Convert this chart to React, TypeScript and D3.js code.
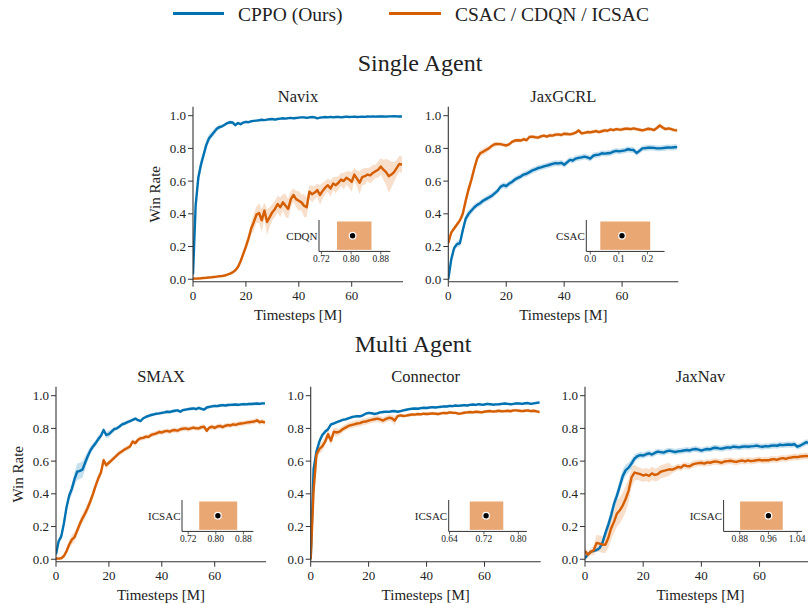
import React from 'react';
import * as d3 from 'd3';

const BLUE = '#0072B2';
const ORANGE = '#D55E00';
const INK = '#222';
const SPINE = '#333';
const FONT = '"Liberation Serif", "Times New Roman", "DejaVu Serif", serif';

// Timesteps (M)
const STEPS = [
  0, 1, 2, 3, 4, 5, 6, 7, 8, 9, 10, 11, 12, 13, 14, 15, 16, 17, 18, 19,
  20, 21, 22, 23, 24, 25, 26, 27, 28, 29, 30, 31, 32, 33, 34, 35, 36, 37, 38, 39,
  40, 41, 42, 43, 44, 45, 46, 47, 48, 49, 50, 51, 52, 53, 54, 55, 56, 57, 58, 59,
  60, 61, 62, 63, 64, 65, 66, 67, 68, 69, 70, 71, 72, 73, 74, 75, 76, 77, 78, 79,
];

const LEGEND = ['CPPO (Ours)', 'CSAC / CDQN / ICSAC'];
const ROW_TITLES = ['Single Agent', 'Multi Agent'];
const PANEL_TITLES = ['Navix', 'JaxGCRL', 'SMAX', 'Connector', 'JaxNav'];
const Y_TICKS = [0, 0.2, 0.4, 0.6, 0.8, 1.0];
const X_TICKS = [0, 20, 40, 60];

// ---------- Navix ----------
const NAVIX_CPPO = [
  0.03, 0.45, 0.62, 0.70, 0.76, 0.82, 0.86, 0.88, 0.90, 0.92,
  0.93, 0.935, 0.945, 0.955, 0.96, 0.958, 0.942, 0.955, 0.948, 0.958,
  0.962, 0.96, 0.966, 0.968, 0.97, 0.972, 0.975, 0.973, 0.976, 0.978,
  0.98, 0.976, 0.98, 0.982, 0.984, 0.982, 0.985, 0.987, 0.984, 0.986,
  0.988, 0.99, 0.99, 0.987, 0.99, 0.992, 0.99, 0.984, 0.988, 0.99,
  0.992, 0.99, 0.993, 0.99, 0.992, 0.993, 0.99, 0.992, 0.994, 0.992,
  0.993, 0.994, 0.992, 0.993, 0.994, 0.993, 0.995, 0.994, 0.995, 0.994,
  0.995, 0.996, 0.995, 0.994, 0.996, 0.996, 0.997, 0.996, 0.995, 0.995,
];
const NAVIX_CPPO_SD = [
  0.01, 0.03, 0.04, 0.04, 0.03, 0.03, 0.025, 0.02, 0.02, 0.015,
  0.015, 0.01, 0.01, 0.01, 0.01, 0.01, 0.01, 0.01, 0.01, 0.01,
  0.008, 0.008, 0.006, 0.006, 0.006, 0.006, 0.006, 0.006, 0.006, 0.006,
  0.006, 0.006, 0.006, 0.006, 0.006, 0.006, 0.006, 0.006, 0.006, 0.006,
  0.006, 0.006, 0.006, 0.006, 0.006, 0.006, 0.006, 0.006, 0.006, 0.006,
  0.006, 0.006, 0.006, 0.006, 0.006, 0.006, 0.006, 0.006, 0.006, 0.006,
  0.006, 0.006, 0.006, 0.006, 0.006, 0.006, 0.006, 0.006, 0.006, 0.006,
  0.006, 0.006, 0.006, 0.006, 0.006, 0.006, 0.006, 0.006, 0.006, 0.006,
];
const NAVIX_BASE = [
  0.005, 0.004, 0.005, 0.006, 0.008, 0.009, 0.011, 0.012, 0.014, 0.016,
  0.018, 0.02, 0.023, 0.028, 0.034, 0.042, 0.055, 0.075, 0.11, 0.155,
  0.20, 0.25, 0.31, 0.35, 0.395, 0.405, 0.36, 0.42, 0.35, 0.38,
  0.41, 0.43, 0.46, 0.44, 0.47, 0.45, 0.43, 0.49, 0.515, 0.49,
  0.48, 0.47, 0.45, 0.44, 0.535, 0.52, 0.53, 0.545, 0.515, 0.54,
  0.56, 0.575, 0.555, 0.585, 0.575, 0.59, 0.61, 0.60, 0.62, 0.61,
  0.595, 0.64, 0.615, 0.59, 0.625, 0.63, 0.64, 0.635, 0.65, 0.66,
  0.67, 0.69, 0.67, 0.655, 0.63, 0.64, 0.655, 0.68, 0.705, 0.70,
];
const NAVIX_BASE_SD = [
  0.004, 0.004, 0.004, 0.004, 0.004, 0.004, 0.004, 0.004, 0.005, 0.005,
  0.005, 0.005, 0.006, 0.006, 0.007, 0.008, 0.01, 0.015, 0.02, 0.025,
  0.03, 0.03, 0.04, 0.05, 0.05, 0.06, 0.07, 0.05, 0.08, 0.06,
  0.05, 0.05, 0.05, 0.06, 0.05, 0.07, 0.06, 0.05, 0.04, 0.05,
  0.06, 0.05, 0.07, 0.06, 0.04, 0.05, 0.04, 0.04, 0.06, 0.05,
  0.04, 0.04, 0.05, 0.04, 0.05, 0.04, 0.04, 0.05, 0.04, 0.05,
  0.06, 0.04, 0.05, 0.07, 0.05, 0.05, 0.04, 0.05, 0.05, 0.04,
  0.05, 0.05, 0.06, 0.08, 0.10, 0.08, 0.06, 0.05, 0.05, 0.05,
];

// ---------- JaxGCRL ----------
const JAXGCRL_CPPO = [
  0.0, 0.12, 0.19, 0.215, 0.22, 0.30, 0.37, 0.40, 0.42, 0.44,
  0.455, 0.465, 0.48, 0.49, 0.50, 0.51, 0.525, 0.54, 0.565, 0.575,
  0.57, 0.585, 0.595, 0.61, 0.62, 0.628, 0.64, 0.645, 0.655, 0.665,
  0.672, 0.68, 0.684, 0.69, 0.695, 0.70, 0.705, 0.71, 0.708, 0.712,
  0.70, 0.715, 0.73, 0.726, 0.738, 0.742, 0.745, 0.75, 0.745, 0.738,
  0.755, 0.76, 0.762, 0.77, 0.768, 0.77, 0.772, 0.78, 0.785, 0.782,
  0.785, 0.788, 0.795, 0.792, 0.79, 0.772, 0.785, 0.80, 0.802, 0.804,
  0.805, 0.803, 0.80, 0.80, 0.802, 0.804, 0.806, 0.805, 0.807, 0.808,
];
const JAXGCRL_CPPO_SD = [
  0.005, 0.02, 0.02, 0.02, 0.02, 0.025, 0.025, 0.025, 0.02, 0.02,
  0.018, 0.018, 0.018, 0.018, 0.018, 0.018, 0.018, 0.018, 0.018, 0.018,
  0.018, 0.018, 0.018, 0.018, 0.018, 0.018, 0.018, 0.018, 0.018, 0.018,
  0.018, 0.018, 0.018, 0.018, 0.018, 0.018, 0.018, 0.018, 0.018, 0.018,
  0.018, 0.018, 0.018, 0.018, 0.018, 0.018, 0.018, 0.018, 0.018, 0.018,
  0.018, 0.018, 0.018, 0.018, 0.018, 0.018, 0.018, 0.018, 0.018, 0.018,
  0.018, 0.018, 0.018, 0.018, 0.018, 0.018, 0.018, 0.018, 0.018, 0.018,
  0.018, 0.018, 0.018, 0.018, 0.018, 0.018, 0.018, 0.018, 0.018, 0.018,
];
const JAXGCRL_BASE = [
  0.22, 0.285, 0.31, 0.335, 0.36, 0.40, 0.48, 0.55, 0.61, 0.68,
  0.74, 0.77, 0.78, 0.79, 0.80, 0.815, 0.825, 0.827, 0.826, 0.822,
  0.818, 0.825, 0.84, 0.848, 0.85, 0.848, 0.856, 0.85, 0.87, 0.872,
  0.868, 0.866, 0.874, 0.878, 0.872, 0.88, 0.878, 0.884, 0.886, 0.882,
  0.89, 0.888, 0.886, 0.89, 0.897, 0.91, 0.892, 0.895, 0.90, 0.898,
  0.902, 0.906, 0.90, 0.905, 0.91, 0.908, 0.916, 0.912, 0.918, 0.915,
  0.916, 0.92, 0.92, 0.918, 0.922, 0.918, 0.914, 0.91, 0.915, 0.92,
  0.918, 0.912, 0.925, 0.94, 0.928, 0.918, 0.922, 0.918, 0.912, 0.91,
];
const JAXGCRL_BASE_SD = [
  0.02, 0.015, 0.015, 0.015, 0.015, 0.03, 0.035, 0.035, 0.03, 0.03,
  0.025, 0.02, 0.02, 0.02, 0.015, 0.015, 0.015, 0.012, 0.012, 0.012,
  0.012, 0.012, 0.012, 0.012, 0.012, 0.012, 0.012, 0.012, 0.012, 0.012,
  0.012, 0.012, 0.012, 0.012, 0.012, 0.012, 0.012, 0.012, 0.012, 0.012,
  0.012, 0.012, 0.012, 0.012, 0.012, 0.012, 0.012, 0.012, 0.012, 0.012,
  0.012, 0.012, 0.012, 0.012, 0.012, 0.012, 0.012, 0.012, 0.012, 0.012,
  0.012, 0.012, 0.012, 0.012, 0.012, 0.012, 0.012, 0.012, 0.012, 0.012,
  0.012, 0.012, 0.012, 0.015, 0.015, 0.012, 0.012, 0.012, 0.012, 0.012,
];

// ---------- SMAX ----------
const SMAX_CPPO = [
  0.03, 0.11, 0.14, 0.22, 0.32, 0.39, 0.43, 0.49, 0.535, 0.54,
  0.548, 0.59, 0.63, 0.665, 0.69, 0.71, 0.735, 0.755, 0.79, 0.76,
  0.765, 0.78, 0.795, 0.80, 0.812, 0.825, 0.83, 0.838, 0.845, 0.852,
  0.86, 0.85, 0.845, 0.862, 0.87, 0.877, 0.882, 0.886, 0.89, 0.892,
  0.895, 0.898, 0.902, 0.90, 0.905, 0.908, 0.91, 0.902, 0.912, 0.915,
  0.918, 0.92, 0.922, 0.918, 0.925, 0.92, 0.915, 0.928, 0.932, 0.935,
  0.938, 0.936, 0.94, 0.942, 0.94, 0.943, 0.944, 0.945, 0.946, 0.944,
  0.947, 0.948, 0.947, 0.95, 0.949, 0.951, 0.952, 0.95, 0.953, 0.953,
];
const SMAX_CPPO_SD = [
  0.01, 0.02, 0.02, 0.02, 0.025, 0.03, 0.035, 0.04, 0.05, 0.05,
  0.05, 0.04, 0.03, 0.025, 0.02, 0.02, 0.02, 0.02, 0.015, 0.02,
  0.02, 0.015, 0.015, 0.012, 0.012, 0.012, 0.012, 0.012, 0.01, 0.01,
  0.01, 0.01, 0.01, 0.01, 0.01, 0.01, 0.01, 0.01, 0.01, 0.01,
  0.01, 0.01, 0.01, 0.01, 0.01, 0.01, 0.01, 0.01, 0.01, 0.01,
  0.01, 0.01, 0.01, 0.01, 0.01, 0.01, 0.01, 0.01, 0.01, 0.01,
  0.01, 0.01, 0.01, 0.01, 0.01, 0.01, 0.01, 0.01, 0.01, 0.01,
  0.01, 0.01, 0.01, 0.01, 0.01, 0.01, 0.01, 0.01, 0.01, 0.01,
];
const SMAX_BASE = [
  0.005, 0.004, 0.006, 0.02, 0.05, 0.09, 0.12, 0.135, 0.175, 0.215,
  0.25, 0.28, 0.315, 0.355, 0.40, 0.45, 0.495, 0.53, 0.605, 0.575,
  0.59, 0.605, 0.62, 0.635, 0.65, 0.66, 0.672, 0.68, 0.69, 0.72,
  0.71, 0.73, 0.74, 0.742, 0.75, 0.748, 0.76, 0.765, 0.77, 0.778,
  0.775, 0.782, 0.785, 0.78, 0.788, 0.79, 0.786, 0.795, 0.798, 0.80,
  0.795, 0.80, 0.805, 0.80, 0.80, 0.808, 0.81, 0.785, 0.805, 0.81,
  0.803, 0.812, 0.815, 0.808, 0.816, 0.82, 0.818, 0.825, 0.822, 0.828,
  0.83, 0.832, 0.835, 0.838, 0.84, 0.842, 0.85, 0.838, 0.842, 0.836,
];
const SMAX_BASE_SD = [
  0.005, 0.005, 0.006, 0.01, 0.02, 0.025, 0.03, 0.03, 0.03, 0.03,
  0.03, 0.03, 0.03, 0.03, 0.03, 0.025, 0.025, 0.025, 0.02, 0.02,
  0.015, 0.015, 0.015, 0.015, 0.015, 0.015, 0.015, 0.015, 0.015, 0.015,
  0.015, 0.015, 0.015, 0.015, 0.015, 0.015, 0.015, 0.015, 0.015, 0.015,
  0.015, 0.015, 0.015, 0.015, 0.015, 0.015, 0.015, 0.015, 0.015, 0.015,
  0.015, 0.015, 0.015, 0.015, 0.015, 0.015, 0.015, 0.015, 0.015, 0.015,
  0.015, 0.015, 0.015, 0.015, 0.015, 0.015, 0.015, 0.015, 0.015, 0.015,
  0.015, 0.015, 0.015, 0.015, 0.015, 0.015, 0.015, 0.015, 0.015, 0.015,
];

// ---------- Connector ----------
const CONNECTOR_CPPO = [
  0.0, 0.55, 0.66, 0.72, 0.76, 0.78, 0.795, 0.825, 0.83, 0.838,
  0.845, 0.852, 0.855, 0.862, 0.868, 0.872, 0.875, 0.874, 0.88, 0.89,
  0.895, 0.893, 0.888, 0.892, 0.898, 0.90, 0.902, 0.901, 0.905, 0.906,
  0.902, 0.906, 0.91, 0.914, 0.918, 0.92, 0.922, 0.92, 0.924, 0.926,
  0.925, 0.928, 0.93, 0.928, 0.93, 0.932, 0.935, 0.934, 0.938, 0.936,
  0.94, 0.938, 0.94, 0.942, 0.94, 0.944, 0.946, 0.944, 0.948, 0.945,
  0.946, 0.95, 0.948, 0.945, 0.947, 0.948, 0.95, 0.952, 0.95, 0.948,
  0.95, 0.953, 0.952, 0.95, 0.954, 0.955, 0.95, 0.953, 0.956, 0.958,
];
const CONNECTOR_CPPO_SD = [
  0.005, 0.03, 0.02, 0.02, 0.015, 0.015, 0.01, 0.01, 0.008, 0.008,
  0.008, 0.008, 0.008, 0.008, 0.008, 0.008, 0.008, 0.008, 0.008, 0.008,
  0.008, 0.008, 0.008, 0.008, 0.008, 0.008, 0.008, 0.008, 0.008, 0.008,
  0.008, 0.008, 0.008, 0.008, 0.008, 0.008, 0.008, 0.008, 0.008, 0.008,
  0.008, 0.008, 0.008, 0.008, 0.008, 0.008, 0.008, 0.008, 0.008, 0.008,
  0.008, 0.008, 0.008, 0.008, 0.008, 0.008, 0.008, 0.008, 0.008, 0.008,
  0.008, 0.008, 0.008, 0.008, 0.008, 0.008, 0.008, 0.008, 0.008, 0.008,
  0.008, 0.008, 0.008, 0.008, 0.008, 0.008, 0.008, 0.008, 0.008, 0.008,
];
const CONNECTOR_BASE = [
  0.0, 0.42, 0.64, 0.675, 0.69, 0.72, 0.765, 0.725, 0.78, 0.775,
  0.78, 0.795, 0.805, 0.815, 0.82, 0.825, 0.83, 0.832, 0.84, 0.842,
  0.848, 0.852, 0.856, 0.86, 0.855, 0.848, 0.858, 0.865, 0.862, 0.848,
  0.875, 0.88, 0.876, 0.878, 0.882, 0.885, 0.884, 0.888, 0.886, 0.89,
  0.888, 0.89, 0.892, 0.89, 0.888, 0.892, 0.895, 0.893, 0.898, 0.896,
  0.895, 0.89, 0.892, 0.896, 0.898, 0.90, 0.898, 0.902, 0.90, 0.898,
  0.902, 0.905, 0.906, 0.903, 0.905, 0.908, 0.904, 0.906, 0.908, 0.905,
  0.91, 0.91, 0.908, 0.906, 0.908, 0.91, 0.906, 0.908, 0.904, 0.90,
];
const CONNECTOR_BASE_SD = [
  0.005, 0.05, 0.03, 0.03, 0.03, 0.025, 0.03, 0.03, 0.025, 0.025,
  0.02, 0.02, 0.02, 0.02, 0.02, 0.02, 0.02, 0.02, 0.02, 0.02,
  0.02, 0.02, 0.02, 0.02, 0.02, 0.02, 0.02, 0.02, 0.02, 0.03,
  0.01, 0.01, 0.01, 0.01, 0.01, 0.01, 0.01, 0.01, 0.01, 0.01,
  0.01, 0.01, 0.01, 0.01, 0.01, 0.01, 0.01, 0.01, 0.01, 0.01,
  0.01, 0.01, 0.01, 0.01, 0.01, 0.01, 0.01, 0.01, 0.01, 0.01,
  0.01, 0.01, 0.01, 0.01, 0.01, 0.01, 0.01, 0.01, 0.01, 0.01,
  0.01, 0.01, 0.01, 0.01, 0.01, 0.01, 0.01, 0.01, 0.01, 0.01,
];

// ---------- JaxNav ----------
const JAXNAV_CPPO = [
  0.005, 0.03, 0.045, 0.052, 0.056, 0.068, 0.10, 0.16, 0.21, 0.27,
  0.34, 0.39, 0.45, 0.51, 0.545, 0.56, 0.585, 0.615, 0.63, 0.637,
  0.634, 0.642, 0.648, 0.64, 0.65, 0.658, 0.655, 0.652, 0.66, 0.664,
  0.66, 0.656, 0.66, 0.662, 0.665, 0.668, 0.665, 0.672, 0.674, 0.67,
  0.664, 0.67, 0.674, 0.672, 0.68, 0.682, 0.678, 0.676, 0.68, 0.684,
  0.682, 0.688, 0.686, 0.684, 0.688, 0.69, 0.688, 0.69, 0.692, 0.695,
  0.69, 0.688, 0.692, 0.69, 0.694, 0.696, 0.694, 0.70, 0.698, 0.70,
  0.702, 0.70, 0.703, 0.688, 0.695, 0.705, 0.715, 0.712, 0.715, 0.718,
];
const JAXNAV_CPPO_SD = [
  0.01, 0.01, 0.01, 0.01, 0.01, 0.015, 0.02, 0.03, 0.035, 0.035,
  0.035, 0.035, 0.04, 0.04, 0.035, 0.03, 0.03, 0.025, 0.02, 0.02,
  0.018, 0.018, 0.018, 0.018, 0.018, 0.018, 0.018, 0.018, 0.018, 0.018,
  0.018, 0.018, 0.018, 0.018, 0.018, 0.018, 0.018, 0.018, 0.018, 0.018,
  0.018, 0.018, 0.018, 0.018, 0.018, 0.018, 0.018, 0.018, 0.018, 0.018,
  0.018, 0.018, 0.018, 0.018, 0.018, 0.018, 0.018, 0.018, 0.018, 0.018,
  0.018, 0.018, 0.018, 0.018, 0.018, 0.018, 0.018, 0.018, 0.018, 0.018,
  0.018, 0.018, 0.018, 0.018, 0.018, 0.018, 0.018, 0.018, 0.018, 0.018,
];
const JAXNAV_BASE = [
  0.05, 0.028, 0.045, 0.055, 0.10, 0.095, 0.09, 0.088, 0.13, 0.19,
  0.23, 0.28, 0.30, 0.33, 0.37, 0.42, 0.50, 0.53, 0.525, 0.52,
  0.512, 0.518, 0.51, 0.525, 0.515, 0.52, 0.535, 0.54, 0.545, 0.55,
  0.548, 0.555, 0.565, 0.56, 0.575, 0.57, 0.568, 0.58, 0.585, 0.588,
  0.59, 0.585, 0.592, 0.59, 0.596, 0.598, 0.594, 0.59, 0.598, 0.60,
  0.602, 0.598, 0.595, 0.60, 0.604, 0.598, 0.605, 0.60, 0.602, 0.605,
  0.608, 0.604, 0.606, 0.605, 0.61, 0.612, 0.608, 0.615, 0.618, 0.614,
  0.62, 0.622, 0.626, 0.624, 0.628, 0.63, 0.632, 0.628, 0.634, 0.636,
];
const JAXNAV_BASE_SD = [
  0.02, 0.02, 0.02, 0.03, 0.05, 0.05, 0.05, 0.05, 0.06, 0.07,
  0.07, 0.08, 0.08, 0.08, 0.08, 0.07, 0.06, 0.05, 0.04, 0.04,
  0.04, 0.04, 0.04, 0.04, 0.04, 0.04, 0.04, 0.04, 0.04, 0.04,
  0.02, 0.02, 0.02, 0.02, 0.02, 0.02, 0.02, 0.02, 0.02, 0.02,
  0.02, 0.02, 0.02, 0.02, 0.02, 0.02, 0.02, 0.02, 0.02, 0.02,
  0.02, 0.02, 0.02, 0.02, 0.02, 0.02, 0.02, 0.02, 0.02, 0.02,
  0.02, 0.02, 0.02, 0.02, 0.02, 0.02, 0.02, 0.02, 0.02, 0.02,
  0.02, 0.02, 0.02, 0.02, 0.02, 0.02, 0.02, 0.02, 0.02, 0.02,
];

// ---------- Insets (interval + point estimate) ----------
const INSET_LABELS = ['CDQN', 'CSAC', 'ICSAC', 'ICSAC', 'ICSAC'];
const INSET_LOW = [0.762, 0.035, 0.752, 0.687, 0.881];
const INSET_HIGH = [0.855, 0.21, 0.862, 0.765, 1.0];
const INSET_POINT = [0.804, 0.111, 0.806, 0.725, 0.96];
const INSET_TICKS = [
  [0.72, 0.8, 0.88],
  [0.0, 0.1, 0.2],
  [0.72, 0.8, 0.88],
  [0.64, 0.72, 0.8],
  [0.88, 0.96, 1.04],
];
const INSET_TICK_FMT = ['.2f', '.1f', '.2f', '.2f', '.2f'];
const INSET_LIMITS = [
  [0.7135, 0.906],
  [-0.014, 0.26],
  [0.702, 0.909],
  [0.638, 0.82],
  [0.835, 1.054],
];

const SERIES = [
  [NAVIX_CPPO, NAVIX_CPPO_SD, NAVIX_BASE, NAVIX_BASE_SD],
  [JAXGCRL_CPPO, JAXGCRL_CPPO_SD, JAXGCRL_BASE, JAXGCRL_BASE_SD],
  [SMAX_CPPO, SMAX_CPPO_SD, SMAX_BASE, SMAX_BASE_SD],
  [CONNECTOR_CPPO, CONNECTOR_CPPO_SD, CONNECTOR_BASE, CONNECTOR_BASE_SD],
  [JAXNAV_CPPO, JAXNAV_CPPO_SD, JAXNAV_BASE, JAXNAV_BASE_SD],
];

// layout (pixels)
const BOXES = [
  { left: 193, top: 106.7, width: 210, ylabel: true },
  { left: 448.3, top: 106.7, width: 230, ylabel: false },
  { left: 56, top: 386.7, width: 210, ylabel: true },
  { left: 310.7, top: 386.7, width: 230, ylabel: false },
  { left: 585, top: 386.7, width: 231, ylabel: false },
];
const AX_H = 175;
const X_DOMAIN = [0, 79.4];
const Y_DOMAIN = [-0.015, 1.055];

function Panel({ idx }: { idx: number }) {
  const b = BOXES[idx];
  const [cppo, cppoSd, base, baseSd] = SERIES[idx];
  const bottom = b.top + AX_H;
  const x = d3.scaleLinear().domain(X_DOMAIN).range([b.left, b.left + b.width]);
  const y = d3.scaleLinear().domain(Y_DOMAIN).range([bottom, b.top]);
  const line = d3
    .line<number>()
    .x((_, i) => x(STEPS[i]))
    .y((d) => y(d));
  const band = (m: number[], s: number[]) =>
    d3
      .area<number>()
      .x((_, i) => x(STEPS[i]))
      .y0((d, i) => y(d - s[i]))
      .y1((d, i) => y(d + s[i]))(m) || '';
  const clipId = `clip-${idx}`;

  // inset
  const iw = b.width * 0.34;
  const ih = AX_H * 0.18;
  const il = b.left + b.width * 0.6;
  const ib = bottom - AX_H * 0.173;
  const it = ib - ih;
  const ix = d3.scaleLinear().domain(INSET_LIMITS[idx]).range([il, il + iw]);
  const iy = d3.scaleLinear().domain([0, 1]).range([ib, it]);
  const fmt = d3.format(INSET_TICK_FMT[idx]);

  return (
    <g>
      <defs>
        <clipPath id={clipId}>
          <rect x={b.left} y={b.top} width={b.width} height={AX_H} />
        </clipPath>
      </defs>
      <g clipPath={`url(#${clipId})`}>
        <path d={band(cppo, cppoSd)} fill={BLUE} fillOpacity={0.22} stroke="none" />
        <path d={band(base, baseSd)} fill={ORANGE} fillOpacity={0.2} stroke="none" />
        <path d={line(cppo) || ''} fill="none" stroke={BLUE} strokeWidth={2.4} strokeLinejoin="round" />
        <path d={line(base) || ''} fill="none" stroke={ORANGE} strokeWidth={2.4} strokeLinejoin="round" />
      </g>
      {/* spines */}
      <line x1={b.left} x2={b.left} y1={b.top} y2={bottom} stroke={SPINE} strokeWidth={1.1} />
      <line x1={b.left} x2={b.left + b.width} y1={bottom} y2={bottom} stroke={SPINE} strokeWidth={1.1} />
      {Y_TICKS.map((t) => (
        <g key={`y${t}`}>
          <line x1={b.left - 5} x2={b.left} y1={y(t)} y2={y(t)} stroke={SPINE} strokeWidth={1} />
          <text x={b.left - 7} y={y(t)} dy="0.35em" textAnchor="end" fontSize={13} fill={INK}>
            {d3.format('.1f')(t)}
          </text>
        </g>
      ))}
      {X_TICKS.map((t) => (
        <g key={`x${t}`}>
          <line x1={x(t)} x2={x(t)} y1={bottom} y2={bottom + 5} stroke={SPINE} strokeWidth={1} />
          <text x={x(t)} y={bottom + 18.5} textAnchor="middle" fontSize={13} fill={INK}>
            {t}
          </text>
        </g>
      ))}
      <text x={b.left + b.width / 2} y={bottom + 38} textAnchor="middle" fontSize={15} fill={INK}>
        Timesteps [M]
      </text>
      {b.ylabel && (
        <text
          transform={`translate(${b.left - 33},${b.top + AX_H / 2}) rotate(-90)`}
          textAnchor="middle"
          fontSize={15}
          fill={INK}
        >
          Win Rate
        </text>
      )}
      <text x={b.left + b.width / 2} y={b.top - 5} textAnchor="middle" fontSize={16.5} fill={INK}>
        {PANEL_TITLES[idx]}
      </text>

      {/* inset */}
      <rect
        x={ix(INSET_LOW[idx])}
        y={iy(0.95)}
        width={ix(INSET_HIGH[idx]) - ix(INSET_LOW[idx])}
        height={iy(0.05) - iy(0.95)}
        fill={ORANGE}
        fillOpacity={0.55}
      />
      <circle cx={ix(INSET_POINT[idx])} cy={iy(0.5)} r={3.3} fill="#000" stroke="#fff" strokeWidth={1.2} />
      <line x1={il} x2={il} y1={it} y2={ib} stroke={SPINE} strokeWidth={1} />
      <line x1={il} x2={il + iw} y1={ib} y2={ib} stroke={SPINE} strokeWidth={1} />
      {INSET_TICKS[idx].map((t) => (
        <g key={`it${t}`}>
          <line x1={ix(t)} x2={ix(t)} y1={ib} y2={ib + 3} stroke={SPINE} strokeWidth={0.8} />
          <text x={ix(t)} y={ib + 11} textAnchor="middle" fontSize={9.5} fill={INK}>
            {fmt(t)}
          </text>
        </g>
      ))}
      <text x={il - 1.5} y={iy(0.5)} dy="0.35em" textAnchor="end" fontSize={11} fill={INK}>
        {INSET_LABELS[idx]}
      </text>
    </g>
  );
}

export default function App() {
  return (
    <svg
      width={808}
      height={604}
      style={{ position: 'absolute', left: 0, top: 0, background: '#fff' }}
      fontFamily={FONT}
    >
      <rect x={0} y={0} width={808} height={604} fill="#fff" />
      {/* legend */}
      <line x1={173} x2={224} y1={13.5} y2={13.5} stroke={BLUE} strokeWidth={3} />
      <text x={238} y={20.5} fontSize={19.5} fill={INK}>
        {LEGEND[0]}
      </text>
      <line x1={389} x2={441} y1={13.5} y2={13.5} stroke={ORANGE} strokeWidth={3} />
      <text x={455} y={20.5} fontSize={19.5} fill={INK}>
        {LEGEND[1]}
      </text>
      <text x={420} y={71} textAnchor="middle" fontSize={24} fill={INK}>
        {ROW_TITLES[0]}
      </text>
      <text x={413} y={352} textAnchor="middle" fontSize={24} fill={INK}>
        {ROW_TITLES[1]}
      </text>
      {PANEL_TITLES.map((_, i) => (
        <Panel key={i} idx={i} />
      ))}
    </svg>
  );
}
